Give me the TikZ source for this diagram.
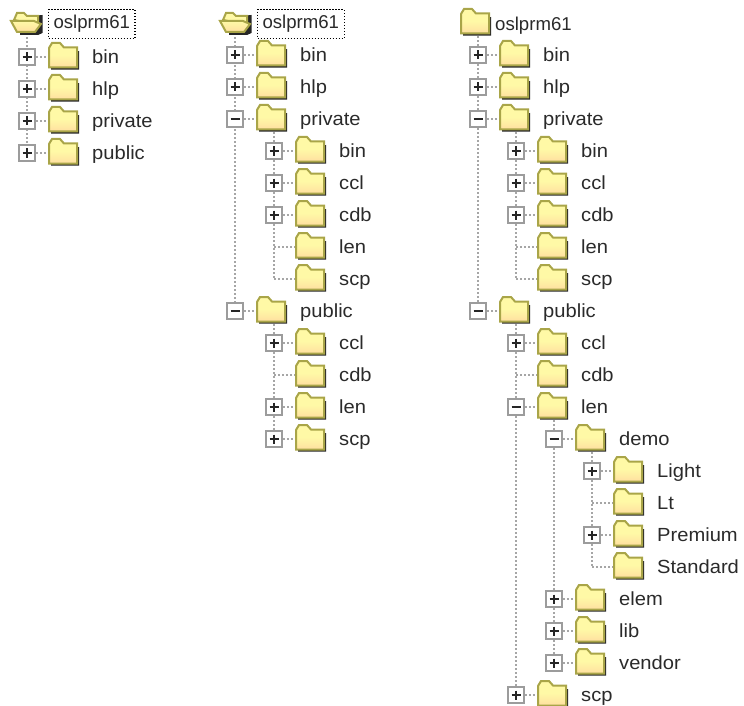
\documentclass[tikz,border=0pt]{standalone}
\usepackage{fontspec}
\setmainfont{Liberation Sans}
\newfontfamily\labfont[FakeStretch=1.06]{Liberation Sans}
\usetikzlibrary{backgrounds}
\definecolor{foldline}{HTML}{A9A548}
\definecolor{foldfill}{HTML}{FFF9A6}
\definecolor{foldwarm}{HTML}{FFDFA0}
\definecolor{conncol}{HTML}{A6A6A6}
\definecolor{boxcol}{HTML}{9C9C9C}
\definecolor{txtcol}{HTML}{2A2A2A}
\tikzset{
  x=1pt,y=-1pt,
  conn/.style={draw=conncol,line width=1.4pt,dash pattern=on 2pt off 2pt},
  anchorbox/.style={minimum width=28pt,minimum height=26pt,inner sep=0pt},
  tbox/.style={draw=boxcol,fill=white,line width=2.4pt,minimum size=15.5pt,inner sep=0pt},
  lab/.style={anchor=base west,inner sep=0pt,font=\labfont\fontsize{19}{19}\selectfont,text=txtcol},
  rootlab/.style={anchor=base west,inner sep=0pt,font=\fontsize{18.6}{19}\selectfont,text=txtcol},
  sel/.style={draw=black,line width=1.1pt,dash pattern=on 1.4pt off 1.6pt,inner xsep=5pt,minimum height=29pt,anchor=west,font=\fontsize{18.6}{19}\selectfont,text=txtcol},
  signline/.style={black!85,line width=2.2pt},
  pics/plussign/.style={code={\draw[signline] (-4.5,0)--(4.5,0) (0,-4.5)--(0,4.5);}},
  pics/minussign/.style={code={\draw[signline] (-4.5,0)--(4.5,0);}},
  pics/closedfolder/.style={code={
    \fill[black!85] (-12,-5) -- (15.2,-6) -- (15.2,12.6) -- (-13,12.6) -- cycle;
    \draw[foldline,line width=2pt,top color=foldfill,bottom color=foldwarm,middle color=foldfill]
      (-15,-9) -- (-12,-14) -- (-4,-14) -- (0,-9.5) -- (13,-9.5) -- (13,10.5) -- (-15,10.5) -- cycle;
  }},
  pics/openfolder/.style={code={
    \fill[black!85] (-6,-7) -- (16.5,-9) -- (16.5,9) -- (12,11) -- (-6,11) -- cycle;
    \draw[foldline,line width=2pt,fill=foldfill]
      (-12,-4) -- (-9,-11) -- (-2,-11) -- (1,-8) -- (12,-8) -- (12,1) -- cycle;
    \draw[foldline,line width=2pt,top color=foldfill,bottom color=foldwarm]
      (-15,-3) -- (8,-3) -- (15,0) -- (9,8) -- (-9,8) -- cycle;
  }},
}
% \treerow{id}{box x}{y}{p|m|n}{label}
\newcommand\treerow[5]{%
  \if p#4\relax
    \node[tbox] (#1b) at (#2,#3) {};
    \path (#1b) pic {plussign};
  \else\if m#4\relax
    \node[tbox] (#1b) at (#2,#3) {};
    \path (#1b) pic {minussign};
  \else
    \coordinate (#1b) at (#2,#3);
  \fi\fi
  \path (#2+37,#3) node[anchorbox] (#1f) {} pic {closedfolder};
  \node[lab] (#1t) at (#2+65,#3+6.5) {#5};
  \begin{pgfonlayer}{background}
    \draw[conn] (#1b) -- (#1f.west);
  \end{pgfonlayer}%
}
% \vlink{parent}{last child}
\newcommand\vlink[2]{%
  \begin{pgfonlayer}{background}
    \draw[conn] (#2b |- #1f.south) -- (#2b);
  \end{pgfonlayer}%
}
\begin{document}
\begin{tikzpicture}
\useasboundingbox (0,0) rectangle (744,706);
% ---------- tree 1
\path (26,24) node[anchorbox] (af) {} pic {openfolder};
\node[sel] (at) at (48,24) {oslprm61};
\treerow{a1}{27}{57}{p}{bin}
\treerow{a2}{27}{89}{p}{hlp}
\treerow{a3}{27}{121}{p}{private}
\treerow{a4}{27}{153}{p}{public}
\vlink{a}{a4}
% ---------- tree 2
\path (235,24) node[anchorbox] (bf) {} pic {openfolder};
\node[sel] (bt) at (257,24) {oslprm61};
\treerow{b1}{235}{55}{p}{bin}
\treerow{b2}{235}{87}{p}{hlp}
\treerow{b3}{235}{119}{m}{private}
\treerow{b4}{274}{151}{p}{bin}
\treerow{b5}{274}{183}{p}{ccl}
\treerow{b6}{274}{215}{p}{cdb}
\treerow{b7}{274}{247}{n}{len}
\treerow{b8}{274}{279}{n}{scp}
\treerow{b9}{235}{311}{m}{public}
\treerow{b10}{274}{343}{p}{ccl}
\treerow{b11}{274}{375}{n}{cdb}
\treerow{b12}{274}{407}{p}{len}
\treerow{b13}{274}{439}{p}{scp}
\vlink{b}{b9}
\vlink{b3}{b8}
\vlink{b9}{b13}
% ---------- tree 3
\path (476,23) node[anchorbox] (cf) {} pic {closedfolder};
\node[rootlab] (ct) at (495,30.5) {oslprm61};
\treerow{c1}{478}{55}{p}{bin}
\treerow{c2}{478}{87}{p}{hlp}
\treerow{c3}{478}{119}{m}{private}
\treerow{c4}{516}{151}{p}{bin}
\treerow{c5}{516}{183}{p}{ccl}
\treerow{c6}{516}{215}{p}{cdb}
\treerow{c7}{516}{247}{n}{len}
\treerow{c8}{516}{279}{n}{scp}
\treerow{c9}{478}{311}{m}{public}
\treerow{c10}{516}{343}{p}{ccl}
\treerow{c11}{516}{375}{n}{cdb}
\treerow{c12}{516}{407}{m}{len}
\treerow{c13}{554}{439}{m}{demo}
\treerow{c14}{592}{471}{p}{Light}
\treerow{c15}{592}{503}{n}{Lt}
\treerow{c16}{592}{535}{p}{Premium}
\treerow{c17}{592}{567}{n}{Standard}
\treerow{c18}{554}{599}{p}{elem}
\treerow{c19}{554}{631}{p}{lib}
\treerow{c20}{554}{663}{p}{vendor}
\treerow{c21}{516}{695}{p}{scp}
\vlink{c}{c9}
\vlink{c3}{c8}
\vlink{c9}{c21}
\vlink{c12}{c20}
\vlink{c13}{c17}
\end{tikzpicture}
\end{document}
